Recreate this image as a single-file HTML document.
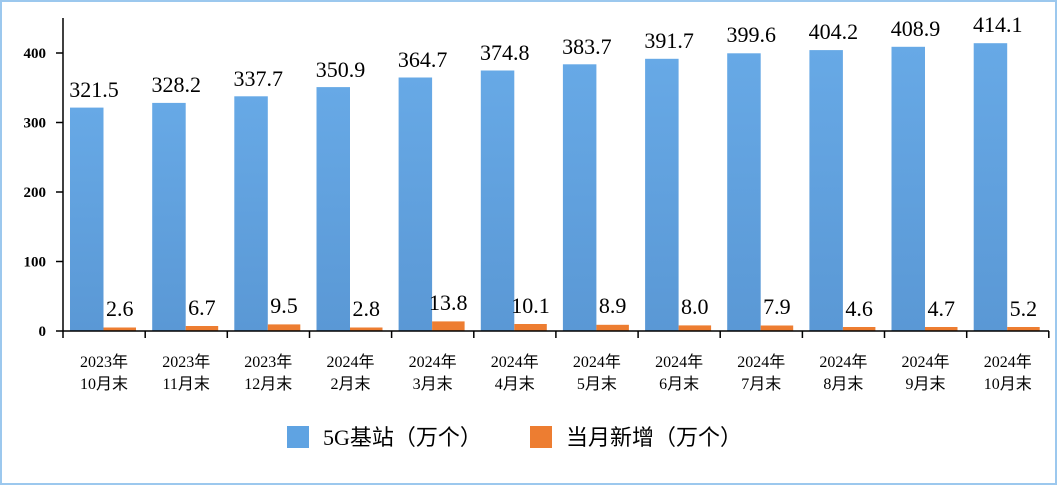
<!DOCTYPE html>
<html><head><meta charset="utf-8"><style>
html,body{margin:0;padding:0;background:#fff}
svg{display:block}
.v{font-family:"Liberation Serif",serif;font-size:22px;fill:#000;text-anchor:middle}
.y{font-family:"Liberation Serif",serif;font-size:15px;font-weight:bold;fill:#000;text-anchor:end}
.c{font-family:"Liberation Serif","Noto Sans CJK SC",sans-serif;font-size:16px;fill:#000;text-anchor:middle}
.l{font-family:"Liberation Serif","Noto Sans CJK SC",sans-serif;font-size:22px;fill:#000}
</style></head><body>
<svg width="1058" height="486" viewBox="0 0 1058 486" xmlns="http://www.w3.org/2000/svg">
<defs><linearGradient id="g" x1="0" y1="0" x2="0" y2="1"><stop offset="0" stop-color="#67a9e6"/><stop offset="1" stop-color="#5a98d5"/></linearGradient></defs>
<rect x="1" y="1" width="1055" height="483" fill="#fff" stroke="#9cc8ee" stroke-width="2"/>
<g fill="url(#g)">
<rect x="70" y="107.6" width="33.5" height="223.4"/>
<rect x="152.2" y="102.9" width="33.5" height="228.1"/>
<rect x="234.3" y="96.3" width="33.5" height="234.7"/>
<rect x="316.5" y="87.1" width="33.5" height="243.9"/>
<rect x="398.6" y="77.5" width="33.5" height="253.5"/>
<rect x="480.8" y="70.5" width="33.5" height="260.5"/>
<rect x="562.9" y="64.3" width="33.5" height="266.7"/>
<rect x="645.1" y="58.8" width="33.5" height="272.2"/>
<rect x="727.2" y="53.3" width="33.5" height="277.7"/>
<rect x="809.4" y="50.1" width="33.5" height="280.9"/>
<rect x="891.5" y="46.8" width="33.5" height="284.2"/>
<rect x="973.7" y="43.2" width="33.5" height="287.8"/>
</g>
<g fill="#ed7d31">
<rect x="103.5" y="327.5" width="32.5" height="3.5"/>
<rect x="185.7" y="326" width="32.5" height="5"/>
<rect x="267.8" y="324.4" width="32.5" height="6.6"/>
<rect x="350" y="327.5" width="32.5" height="3.5"/>
<rect x="432.1" y="321.4" width="32.5" height="9.6"/>
<rect x="514.3" y="324" width="32.5" height="7"/>
<rect x="596.4" y="324.8" width="32.5" height="6.2"/>
<rect x="678.6" y="325.4" width="32.5" height="5.6"/>
<rect x="760.7" y="325.5" width="32.5" height="5.5"/>
<rect x="842.9" y="327" width="32.5" height="4"/>
<rect x="925" y="327" width="32.5" height="4"/>
<rect x="1007.2" y="327" width="32.5" height="4"/>
</g>
<g class="v">
<text x="94" y="97">321.5</text>
<text x="176.2" y="92">328.2</text>
<text x="258.3" y="86">337.7</text>
<text x="340.5" y="77">350.9</text>
<text x="422.6" y="67">364.7</text>
<text x="504.8" y="60">374.8</text>
<text x="586.9" y="54">383.7</text>
<text x="669.1" y="48">391.7</text>
<text x="751.2" y="42">399.6</text>
<text x="833.4" y="39">404.2</text>
<text x="915.5" y="36">408.9</text>
<text x="997.7" y="32">414.1</text>
<text x="119.7" y="316">2.6</text>
<text x="201.9" y="315">6.7</text>
<text x="284" y="313">9.5</text>
<text x="366.2" y="316">2.8</text>
<text x="448.3" y="310">13.8</text>
<text x="530.5" y="313">10.1</text>
<text x="612.6" y="313">8.9</text>
<text x="694.8" y="314">8.0</text>
<text x="776.9" y="314">7.9</text>
<text x="859.1" y="316">4.6</text>
<text x="941.2" y="316">4.7</text>
<text x="1023.4" y="316">5.2</text>
</g>
<g stroke="#000" stroke-width="1.5" fill="none">
<line x1="63" y1="18" x2="63" y2="331"/>
<line x1="63" y1="331" x2="1049" y2="331"/>
<line x1="56" y1="331" x2="63" y2="331"/>
<line x1="56" y1="261.5" x2="63" y2="261.5"/>
<line x1="56" y1="192" x2="63" y2="192"/>
<line x1="56" y1="122.5" x2="63" y2="122.5"/>
<line x1="56" y1="53" x2="63" y2="53"/>
<path d="M63 331v7M145.2 331v7M227.3 331v7M309.5 331v7M391.6 331v7M473.8 331v7M555.9 331v7M638.1 331v7M720.2 331v7M802.4 331v7M884.5 331v7M966.7 331v7M1048.8 331v7"/>
</g>
<g class="y">
<text x="46" y="336">0</text>
<text x="46" y="266.5">100</text>
<text x="46" y="197">200</text>
<text x="46" y="127.5">300</text>
<text x="46" y="58">400</text>
</g>
<g class="c">
<text x="104" y="367">2023年</text><text x="104" y="389">10月末</text>
<text x="186.2" y="367">2023年</text><text x="186.2" y="389">11月末</text>
<text x="268.3" y="367">2023年</text><text x="268.3" y="389">12月末</text>
<text x="350.5" y="367">2024年</text><text x="350.5" y="389">2月末</text>
<text x="432.6" y="367">2024年</text><text x="432.6" y="389">3月末</text>
<text x="514.8" y="367">2024年</text><text x="514.8" y="389">4月末</text>
<text x="596.9" y="367">2024年</text><text x="596.9" y="389">5月末</text>
<text x="679.1" y="367">2024年</text><text x="679.1" y="389">6月末</text>
<text x="761.2" y="367">2024年</text><text x="761.2" y="389">7月末</text>
<text x="843.4" y="367">2024年</text><text x="843.4" y="389">8月末</text>
<text x="925.5" y="367">2024年</text><text x="925.5" y="389">9月末</text>
<text x="1007.7" y="367">2024年</text><text x="1007.7" y="389">10月末</text>
</g>
<rect x="287" y="426" width="22" height="22" fill="#5fa3e2"/>
<text class="l" x="323" y="445">5G基站（万个）</text>
<rect x="530" y="426" width="22" height="22" fill="#ed7d31"/>
<text class="l" x="566" y="445">当月新增（万个）</text>
</svg>
</body></html>
